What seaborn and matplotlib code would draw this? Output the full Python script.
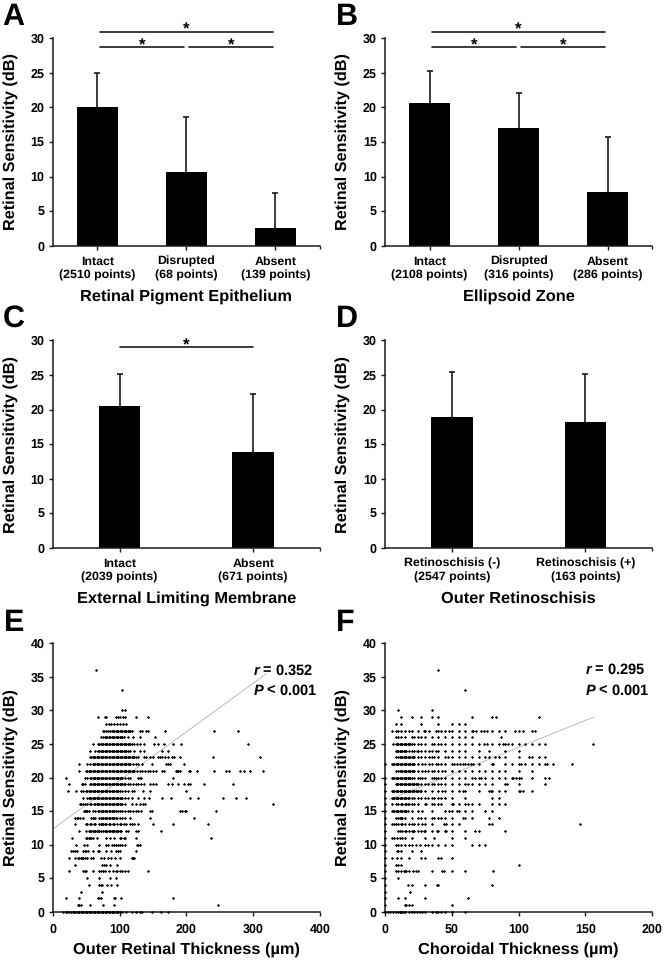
import pandas as pd
import seaborn as sns
import matplotlib.pyplot as plt

# Bar panels: mean and top of the error bar
labels_a = ['Intact\n(2510 points)', 'Disrupted\n(68 points)', 'Absent\n(139 points)']
means_a = [20.0, 10.6, 2.6]
tops_a = [25.0, 18.6, 7.6]

labels_b = ['Intact\n(2108 points)', 'Disrupted\n(316 points)', 'Absent\n(286 points)']
means_b = [20.7, 17.0, 7.8]
tops_b = [25.2, 22.1, 15.7]

labels_c = ['Intact\n(2039 points)', 'Absent\n(671 points)']
means_c = [20.5, 13.9]
tops_c = [25.2, 22.2]

labels_d = ['Retinoschisis (-)\n(2547 points)', 'Retinoschisis (+)\n(163 points)']
means_d = [18.9, 18.2]
tops_d = [25.5, 25.1]

# Panel E: outer retinal thickness values at each sensitivity level
e_levels = {
    0: [16, 20, 22, 25, 28, 30, 32, 34, 36, 38, 40, 42, 44, 46, 48, 50, 52, 54, 56, 58, 60, 62, 64, 66, 68, 70, 72, 74, 76, 78, 80, 82, 84, 86, 88, 90, 92, 94, 96, 98, 100, 104, 110, 118, 124, 130, 134, 148, 162, 172],
    1: [38, 40, 42, 56, 76, 92, 248],
    2: [20, 40, 68, 70, 72, 91, 93, 102, 180],
    3: [42, 74],
    4: [55, 70, 72, 74, 81, 87, 96],
    5: [51, 69, 86, 94],
    6: [25, 46, 48, 50, 60, 70, 72, 75, 78, 84, 90, 94, 96, 100, 104, 108, 112, 142],
    7: [34, 74, 77, 80, 86, 96],
    8: [25, 34, 38, 40, 42, 44, 46, 48, 52, 58, 60, 72, 77, 83, 87, 93, 100, 118, 120, 122],
    9: [27, 30, 34, 36, 46, 48, 50, 53, 60, 68, 70, 80, 87, 95, 98, 100, 124],
    10: [35, 47, 51, 70, 80, 83, 88, 92, 95, 98, 100, 104, 108, 126, 128, 130],
    11: [29, 50, 52, 54, 56, 58, 60, 66, 80, 85, 92, 100, 102, 106, 108, 124, 237],
    12: [40, 50, 54, 56, 58, 60, 62, 64, 66, 68, 70, 72, 76, 78, 80, 82, 84, 86, 88, 90, 92, 94, 96, 98, 100, 102, 110, 112, 124, 127, 162],
    13: [34, 50, 52, 56, 58, 62, 64, 70, 72, 74, 76, 78, 80, 84, 86, 90, 92, 96, 100, 102, 106, 110, 116, 118, 121, 128, 150, 180, 233],
    14: [33, 36, 38, 41, 45, 58, 60, 62, 64, 70, 72, 74, 76, 78, 80, 82, 84, 86, 88, 90, 92, 94, 96, 100, 104, 108, 116, 145, 212],
    15: [47, 48, 50, 52, 54, 60, 64, 68, 70, 72, 74, 76, 78, 80, 82, 84, 86, 88, 90, 92, 94, 98, 100, 104, 108, 112, 116, 120, 124, 128, 132, 146, 148, 190, 194, 198, 200, 244],
    16: [41, 43, 45, 48, 52, 56, 58, 62, 64, 66, 68, 70, 72, 74, 76, 78, 80, 82, 84, 86, 88, 90, 92, 94, 96, 98, 100, 102, 104, 108, 118, 124, 130, 135, 138, 330],
    17: [45, 52, 54, 56, 58, 60, 62, 64, 66, 68, 70, 72, 74, 76, 78, 80, 82, 84, 86, 88, 90, 92, 94, 96, 98, 100, 102, 104, 108, 112, 118, 128, 136, 144, 163, 177, 206, 218, 255, 274, 289],
    18: [23, 35, 43, 46, 50, 52, 54, 56, 58, 60, 62, 64, 66, 68, 70, 72, 74, 76, 78, 80, 82, 84, 86, 88, 90, 92, 94, 96, 98, 100, 104, 108, 112, 118, 122, 135, 146, 200],
    19: [24, 44, 46, 48, 56, 58, 60, 62, 64, 66, 68, 70, 72, 74, 76, 78, 80, 82, 84, 86, 88, 90, 92, 94, 96, 98, 100, 102, 104, 106, 108, 112, 116, 120, 124, 128, 132, 136, 146, 150, 154, 173, 178, 188, 196, 202, 205, 226, 270],
    20: [20, 49, 52, 56, 58, 60, 62, 64, 66, 68, 70, 72, 74, 76, 78, 80, 82, 84, 86, 88, 90, 92, 94, 96, 98, 100, 102, 104, 108, 112, 116, 128, 130, 132, 180],
    21: [39, 50, 52, 54, 56, 58, 60, 62, 64, 66, 68, 70, 72, 74, 76, 78, 80, 82, 84, 86, 88, 90, 92, 94, 96, 98, 100, 102, 104, 106, 108, 110, 112, 114, 116, 118, 120, 122, 126, 130, 134, 138, 142, 146, 150, 154, 164, 166, 184, 186, 188, 190, 204, 206, 216, 242, 260, 264, 280, 287, 295, 315],
    22: [40, 52, 56, 60, 62, 64, 66, 68, 70, 72, 74, 76, 78, 80, 82, 84, 86, 88, 90, 92, 94, 96, 98, 100, 102, 104, 106, 108, 110, 112, 114, 116, 120, 124, 128, 134, 148, 170, 172, 175, 196],
    23: [56, 58, 60, 62, 64, 66, 68, 70, 72, 74, 76, 78, 80, 82, 84, 86, 88, 90, 92, 94, 96, 98, 100, 102, 104, 106, 108, 110, 112, 114, 116, 118, 120, 122, 124, 128, 136, 140, 146, 150, 158, 160, 164, 168, 172, 178, 182, 190, 240, 310],
    24: [56, 64, 68, 70, 72, 74, 76, 78, 80, 82, 84, 86, 88, 90, 92, 94, 96, 98, 100, 102, 104, 106, 108, 110, 112, 116, 122, 130, 136, 163, 173],
    25: [61, 68, 70, 72, 74, 76, 78, 80, 82, 84, 86, 88, 90, 92, 94, 96, 98, 100, 102, 104, 106, 108, 110, 112, 114, 116, 118, 122, 126, 130, 136, 152, 158, 166, 180, 192, 293],
    26: [73, 76, 78, 80, 82, 84, 86, 88, 90, 92, 94, 96, 98, 100, 102, 104, 106, 112, 120, 130, 153],
    27: [75, 77, 80, 83, 86, 88, 90, 92, 94, 96, 98, 100, 102, 104, 106, 108, 110, 112, 114, 116, 118, 130, 133, 140, 143, 168, 241, 277],
    28: [80, 84, 87, 92, 96, 100, 105, 110],
    29: [68, 78, 80, 95, 98, 100, 105, 108, 124, 143],
    30: [104, 108],
    33: [104],
    36: [65],
}

# Panel F: choroidal thickness values at each sensitivity level
f_levels = {
    0: [0, 2, 4, 6, 8, 10, 11, 12, 13, 14, 15, 18, 20, 22, 24, 26, 28, 30, 35, 38, 40, 42, 45, 50, 60],
    1: [0, 15, 16, 18, 20, 50],
    2: [0, 10, 15, 30, 62],
    3: [0, 19],
    4: [0, 17, 20, 30, 39, 40, 80],
    5: [0, 10],
    6: [0, 8, 10, 12, 14, 15, 16, 18, 21, 23, 25, 35, 43, 44, 50, 60, 81],
    7: [0, 8, 10, 12, 100],
    8: [0, 5, 9, 12, 18, 27, 30, 40, 42, 50],
    9: [0, 9, 10, 12, 20, 27],
    10: [0, 8, 10, 12, 15, 18, 20, 23, 26, 30, 32, 35, 40, 45, 50, 65, 70, 75],
    11: [0, 5, 7, 9, 11, 13, 15, 20, 30, 37, 50, 60],
    12: [0, 10, 11, 13, 15, 16, 18, 20, 21, 22, 25, 27, 29, 30, 35, 39, 40, 45, 46, 50, 60, 67, 70, 90],
    13: [0, 5, 7, 8, 10, 12, 13, 15, 18, 20, 22, 25, 28, 30, 35, 44, 46, 50, 55, 78, 80, 146],
    14: [0, 8, 10, 11, 12, 13, 15, 20, 25, 27, 30, 35, 37, 40, 42, 45, 50, 58, 60, 65, 78, 85],
    15: [0, 5, 6, 7, 8, 9, 10, 11, 12, 13, 14, 15, 16, 17, 20, 25, 28, 35, 45, 48, 50, 54, 55, 60, 65, 75, 80],
    16: [0, 5, 8, 10, 12, 13, 15, 16, 17, 18, 20, 22, 25, 30, 31, 35, 37, 40, 42, 50, 51, 55, 60, 62, 65, 70, 80, 85, 90],
    17: [0, 5, 6, 7, 8, 9, 10, 11, 12, 13, 14, 15, 16, 17, 18, 20, 22, 25, 27, 30, 32, 35, 37, 40, 42, 45, 50, 60, 80, 85],
    18: [0, 5, 6, 7, 8, 9, 10, 11, 12, 13, 14, 15, 16, 17, 18, 19, 20, 21, 22, 23, 24, 25, 26, 27, 30, 35, 40, 43, 45, 50, 55, 58, 60, 70, 78, 79, 80, 85, 90, 100, 101, 103, 110],
    19: [0, 8, 9, 10, 11, 12, 13, 14, 15, 16, 17, 18, 19, 20, 21, 22, 23, 24, 25, 27, 30, 32, 35, 37, 40, 42, 45, 50, 55, 60, 62, 65, 70, 75, 80, 90, 91, 100, 120],
    20: [0, 5, 6, 7, 8, 9, 10, 11, 12, 13, 14, 15, 16, 17, 18, 19, 20, 22, 25, 26, 28, 30, 35, 37, 38, 40, 42, 45, 50, 55, 60, 65, 67, 70, 72, 75, 80, 85, 90, 95, 96, 98, 100, 102, 110, 120, 123],
    21: [8, 10, 11, 12, 13, 14, 15, 16, 17, 18, 19, 20, 21, 22, 25, 28, 30, 32, 35, 37, 40, 43, 45, 50, 55, 60, 65, 70, 75, 80, 85, 90, 100, 110],
    22: [0, 5, 6, 7, 8, 9, 10, 11, 12, 13, 14, 15, 16, 17, 18, 19, 20, 21, 22, 25, 28, 30, 33, 35, 38, 40, 42, 45, 50, 52, 54, 56, 58, 60, 62, 64, 66, 70, 80, 81, 90, 95, 100, 102, 105, 110, 115, 120, 121, 126, 140],
    23: [8, 10, 11, 12, 13, 14, 15, 16, 17, 18, 19, 20, 21, 22, 25, 27, 30, 33, 35, 37, 40, 45, 47, 50, 55, 60, 65, 70, 75, 78, 82, 85, 90, 100, 108, 110, 115, 120],
    24: [8, 9, 10, 11, 12, 13, 14, 15, 16, 18, 20, 22, 24, 25, 27, 30, 33, 35, 38, 40, 45, 50, 55, 60, 70, 78, 90, 100],
    25: [6, 8, 9, 10, 11, 12, 13, 14, 15, 16, 17, 18, 19, 20, 22, 25, 27, 30, 35, 37, 40, 42, 45, 50, 55, 60, 65, 70, 74, 76, 80, 85, 88, 90, 92, 95, 100, 105, 110, 115, 120, 156],
    26: [8, 10, 12, 15, 20, 22, 25, 27, 30, 35, 40, 45, 50, 55, 60, 65, 87],
    27: [5, 8, 10, 12, 15, 18, 20, 25, 29, 30, 33, 38, 40, 42, 45, 48, 50, 55, 60, 65, 66, 68, 72, 74, 76, 80, 85, 90, 97, 100, 103, 110, 112],
    28: [8, 12, 27, 40, 50, 55, 60],
    29: [12, 20, 27, 35, 40, 65, 80, 83, 115],
    30: [10, 35],
    33: [60],
    36: [40],
}

# Trend lines
e_trend_x = [0, 320]
e_trend_y = [12.3, 35.5]
f_trend_x = [3, 156]
f_trend_y = [16.7, 29.0]

sns.set_theme(style='ticks')
plt.rcParams['font.family'] = ['Liberation Sans', 'DejaVu Sans']
plt.rcParams['font.weight'] = 'bold'
plt.rcParams['text.color'] = 'black'
plt.rcParams['xtick.labelcolor'] = 'black'
plt.rcParams['ytick.labelcolor'] = 'black'
plt.rcParams['text.hinting'] = 'no_hinting'
plt.rcParams['mathtext.fontset'] = 'custom'
plt.rcParams['mathtext.bfit'] = 'Liberation Sans:italic:bold'

fig = plt.figure(figsize=(6.64, 9.6), dpi=100)


def make_axes(left, top, right, bottom):
    ax = fig.add_axes([left / 664, 1 - bottom / 960, (right - left) / 664, (bottom - top) / 960])
    sns.despine(ax=ax)
    for side in ['left', 'bottom']:
        ax.spines[side].set_color('#1a1a1a')
        ax.spines[side].set_linewidth(1.1)
    ax.tick_params(axis='both', length=3, width=1, color='#1a1a1a', labelsize=9, pad=3)
    return ax


def set_ylabel(ax):
    ax.set_ylabel('Retinal Sensitivity (dB)', fontsize=11.7, fontweight='bold', color='black')
    ax.yaxis.set_label_coords(-0.13, 0.5)


def bar_panel(left, top, labels, means, tops, title, width):
    ax = make_axes(left, top, left + 267.3, top + 207.4)
    df = pd.DataFrame({'group': labels, 'mean': means})
    sns.barplot(data=df, x='group', y='mean', color='black', saturation=1, width=width, linewidth=0, ax=ax)
    xpos = list(range(len(labels)))
    ax.vlines(xpos, means, tops, color='#1a1a1a', lw=1.2)
    ax.plot(xpos, tops, ls='none', marker='_', ms=5, mew=1.2, color='#1a1a1a')
    ax.set_xlim(-0.5, len(labels) - 0.5)
    ax.set_ylim(0, 30)
    ax.set_yticks(range(0, 31, 5))
    ax.set_xticks([len(labels) - 0.5], minor=True)
    ax.tick_params(axis='x', which='minor', length=2, width=1, color='#1a1a1a')
    ax.set_xlabel(title, fontsize=11.8, fontweight='bold', color='black', labelpad=5.8)
    set_ylabel(ax)
    ax.tick_params(axis='x', labelsize=8.9, pad=4.5)
    for tick in ax.get_xticklabels():
        tick.set_linespacing(1.3)
    return ax


def bracket(ax, x0, x1, y):
    ax.plot([x0, x1], [y, y], color='#1a1a1a', lw=1.2, clip_on=False)
    ax.text((x0 + x1) / 2, y - 0.9, '*', ha='center', va='bottom', fontsize=12, clip_on=False)


def scatter_panel(left, levels, trend_x, trend_y, xmax, xlabel, note):
    ax = make_axes(left, 643.3, left + 267.3, 911.7)
    xs = [x for y in levels for x in levels[y]]
    ys = [y for y in levels for x in levels[y]]
    sns.scatterplot(x=xs, y=ys, marker='D', s=2.6, color='black', linewidth=0, ax=ax, clip_on=False, zorder=3)
    sns.lineplot(x=trend_x, y=trend_y, color='#b0b0b0', lw=0.6, ax=ax)
    ax.set_xlim(0, xmax)
    ax.set_ylim(0, 40)
    ax.set_xticks(range(0, xmax + 1, xmax // 4))
    ax.set_yticks(range(0, 41, 5))
    ax.tick_params(axis='x', pad=5.5)
    ax.set_xlabel(xlabel, fontsize=11.8, fontweight='bold', color='black', labelpad=5)
    set_ylabel(ax)
    ax.text(0.75, 0.9, '$\\mathbfit{r}$ = ' + note, transform=ax.transAxes, fontsize=10.5, va='center')
    ax.text(0.75, 0.825, '$\\mathbfit{P}$ < 0.001', transform=ax.transAxes, fontsize=10.5, va='center')
    return ax


ax_a = bar_panel(52.7, 38.3, labels_a, means_a, tops_a, 'Retinal Pigment Epithelium', 0.46)
bracket(ax_a, 0.03, 1.97, 30.95)
bracket(ax_a, 0.03, 0.97, 28.7)
bracket(ax_a, 1.03, 1.97, 28.7)

ax_b = bar_panel(385, 38.3, labels_b, means_b, tops_b, 'Ellipsoid Zone', 0.46)
bracket(ax_b, 0.03, 1.97, 30.95)
bracket(ax_b, 0.03, 0.97, 28.7)
bracket(ax_b, 1.03, 1.97, 28.7)

ax_c = bar_panel(52.7, 340.4, labels_c, means_c, tops_c, 'External Limiting Membrane', 0.313)
bracket(ax_c, 0.0, 1.0, 29.0)

ax_d = bar_panel(385, 340.4, labels_d, means_d, tops_d, 'Outer Retinoschisis', 0.313)

scatter_panel(52.7, e_levels, e_trend_x, e_trend_y, 400, 'Outer Retinal Thickness (µm)', '0.352')
scatter_panel(385, f_levels, f_trend_x, f_trend_y, 200, 'Choroidal Thickness (µm)', '0.295')

for letter, px, py in [('A', 2, 25), ('B', 336, 25), ('C', 3, 327), ('D', 336, 327), ('E', 4, 631), ('F', 336, 631)]:
    fig.text(px / 664, 1 - py / 960, letter, fontsize=22, fontweight='bold', color='black', va='baseline')

fig.savefig('out.png', dpi=100)
